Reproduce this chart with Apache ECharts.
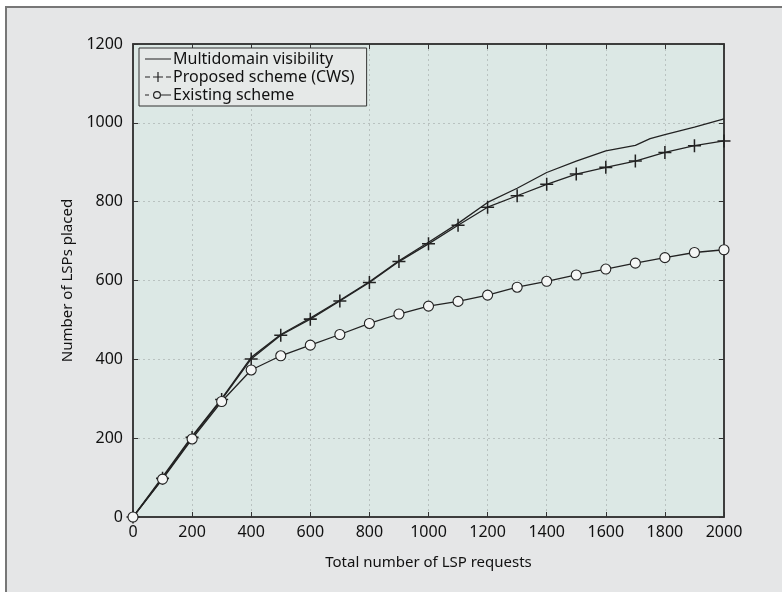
<!DOCTYPE html>
<html>
<head>
<meta charset="utf-8">
<script src="https://cdn.jsdelivr.net/npm/echarts@6/dist/echarts.min.js"></script>
<style>
  html, body { margin: 0; padding: 0; background: #ffffff; }
  #chart { width: 782px; height: 592px; }
</style>
</head>
<body>
<div id="chart"></div>
<script>
// x positions (number of LSP requests)
const requests = [0, 100, 200, 300, 400, 500, 600, 700, 800, 900, 1000, 1100, 1200, 1300, 1400, 1500, 1600, 1700, 1800, 1900, 2000];
const multiRequests = [0, 100, 200, 300, 400, 500, 600, 700, 800, 900, 1000, 1100, 1200, 1300, 1400, 1500, 1600, 1700, 1750, 1800, 1900, 2000];

// series values (number of LSPs placed)
const multidomain = [0, 102, 205, 300, 405, 463, 505, 550, 597, 650, 697, 745, 798, 834, 874, 903, 929, 943, 960, 970, 989, 1010];
const proposedCWS = [0, 98, 202, 298, 401, 461, 502, 548, 595, 648, 693, 740, 786, 815, 844, 870, 887, 903, 925, 942, 954];
const existing = [0, 96, 198, 293, 373, 409, 436, 463, 491, 515, 535, 547, 563, 583, 598, 614, 629, 644, 658, 671, 678];

const seriesNames = ['Multidomain visibility', 'Proposed scheme (CWS)', 'Existing scheme'];

const pair = (xs, ys) => xs.map((x, i) => [x, ys[i]]);

const FONT = '"Noto Sans", "Open Sans", sans-serif';
const INK = '#222';
const plusPath = 'path://M5.3,0h1.4v5.3h5.3v1.4h-5.3v5.3h-1.4v-5.3h-5.3v-1.4h5.3z';

// legend icons, drawn in a 26 x 12 box (tiny corner specks fix the box)
const BOX = 'M0,0h0.01v0.01h-0.01z M25.99,11.99h0.01v0.01h-0.01z ';
const iconSolid = 'path://' + BOX + 'M0,5.4h26v1.2h-26z';
const iconCross = 'path://' + BOX + 'M0,5.4h5v1.2h-5z M21,5.4h5v1.2h-5z M8,5.4h10v1.2h-10z M12.4,1h1.2v10h-1.2z';
const iconCircle = 'path://' + BOX + 'M0,5.4h4v1.2h-4z M16,5.4h10v1.2h-10z '
    + 'M8,6a4,4 0 1,0 8,0a4,4 0 1,0 -8,0z M9.2,6a2.8,2.8 0 1,1 5.6,0a2.8,2.8 0 1,1 -5.6,0z';

const gridLine = { show: true, showMinLine: false, showMaxLine: false, lineStyle: { color: '#b9c2c0', type: [2, 3], width: 1 } };
const frameAxisLine = { show: true, onZero: false, lineStyle: { color: '#333', width: 1.5 } };
const innerTick = { show: true, inside: true, length: 5, lineStyle: { color: '#333' } };

const myChart = echarts.init(document.getElementById('chart'));

const option = {
    backgroundColor: '#ffffff',
    animation: false,
    graphic: [{
        type: 'rect',
        z: -10,
        shape: { x: 6, y: 7, width: 800, height: 600 },
        style: { fill: '#e5e6e7', stroke: '#777', lineWidth: 2 }
    }],
    grid: {
        left: 133,
        top: 44,
        right: 58,
        bottom: 75,
        show: true,
        backgroundColor: '#dce8e5',
        borderColor: '#333',
        borderWidth: 1.5
    },
    legend: {
        orient: 'vertical',
        left: 139,
        top: 48,
        padding: [3, 12, 3, 6],
        itemGap: 2,
        itemWidth: 26,
        itemHeight: 12,
        backgroundColor: '#e6e9e8',
        borderColor: '#333',
        borderWidth: 1,
        borderRadius: 0,
        itemStyle: { color: INK, borderWidth: 0 },
        textStyle: { fontFamily: FONT, fontSize: 16, color: '#111', padding: [0, 0, 0, -3] },
        data: [
            { name: seriesNames[0], icon: iconSolid },
            { name: seriesNames[1], icon: iconCross },
            { name: seriesNames[2], icon: iconCircle }
        ]
    },
    xAxis: [{
        type: 'value',
        min: 0,
        max: 2000,
        interval: 200,
        name: 'Total number of LSP requests',
        nameLocation: 'middle',
        nameGap: 38,
        nameTextStyle: { fontFamily: FONT, fontSize: 15, color: '#111' },
        axisLine: frameAxisLine,
        axisTick: innerTick,
        axisLabel: { fontFamily: FONT, fontSize: 16, color: '#111', margin: 7, formatter: v => String(v) },
        splitLine: gridLine
    }, {
        type: 'value',
        position: 'top',
        min: 0,
        max: 2000,
        interval: 200,
        axisLine: frameAxisLine,
        axisTick: innerTick,
        axisLabel: { show: false },
        splitLine: { show: false }
    }],
    yAxis: [{
        type: 'value',
        min: 0,
        max: 1200,
        interval: 200,
        name: 'Number of LSPs placed',
        nameLocation: 'middle',
        nameGap: 44,
        nameTextStyle: { fontFamily: FONT, fontSize: 15, color: '#111' },
        axisLine: frameAxisLine,
        axisTick: innerTick,
        axisLabel: { fontFamily: FONT, fontSize: 16, color: '#111', margin: 10, formatter: v => String(v) },
        splitLine: gridLine
    }, {
        type: 'value',
        position: 'right',
        min: 0,
        max: 1200,
        interval: 200,
        axisLine: frameAxisLine,
        axisTick: innerTick,
        axisLabel: { show: false },
        splitLine: { show: false }
    }],
    series: [{
        name: seriesNames[0],
        type: 'line',
        data: pair(multiRequests, multidomain),
        showSymbol: false,
        symbol: 'none',
        lineStyle: { color: INK, width: 1.3 },
        itemStyle: { color: INK },
        z: 3
    }, {
        name: seriesNames[1],
        type: 'line',
        data: pair(requests, proposedCWS),
        symbol: plusPath,
        symbolSize: 13,
        lineStyle: { color: INK, width: 1.3 },
        itemStyle: { color: INK, borderWidth: 0 },
        z: 4
    }, {
        name: seriesNames[2],
        type: 'line',
        data: pair(requests, existing),
        symbol: 'circle',
        symbolSize: 10,
        lineStyle: { color: INK, width: 1.3 },
        itemStyle: { color: '#f4f6f5', borderColor: INK, borderWidth: 1.1 },
        z: 5
    }]
};

myChart.setOption(option);
window.addEventListener('resize', () => {
    myChart.resize();
});
</script>
</body>
</html>
